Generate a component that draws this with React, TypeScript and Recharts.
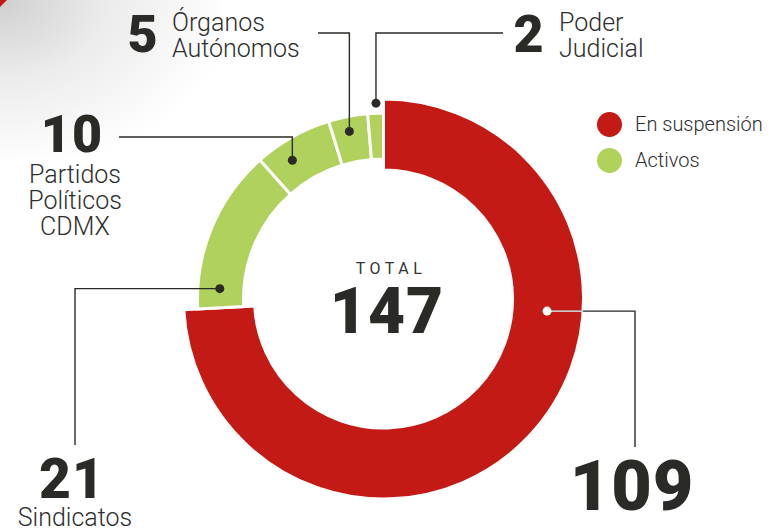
import React from 'react';
import { PieChart, Pie, Cell, Legend } from 'recharts';

// values
const suspendedName = 'En suspensión';
const suspendedValue = 109;
const activeNames = ['Sindicatos', 'Partidos Políticos CDMX', 'Órganos Autónomos', 'Poder Judicial'];
const activeValues = [21, 10, 5, 2];
const legendLabels = ['En suspensión', 'Activos'];
const totalLabel = 'TOTAL';

const RED = '#c41a15';
const GREEN = '#b0d25c';
const INK = '#2a2a26';
const NUM_FONT = 'Roboto, "DejaVu Sans", sans-serif';
const TXT_FONT = 'Roboto, "Noto Sans", sans-serif';

const total = suspendedValue + activeValues.reduce((s, v) => s + v, 0);
const redEnd = 90 - (360 * suspendedValue) / total;

const redData = [{ name: suspendedName, value: suspendedValue }];
const greenData = activeNames.map((name, i) => ({ name, value: activeValues[i] }));

// where each leader line starts on its slice and how it runs to the label
type Note = {
  at: number;
  r: number;
  dir: 'v' | 'h';
  turn: number;
  end: number;
  dot: string;
  num: { x: number; y: number; size: number };
  lines: string[];
  textX: number;
  textY: number;
  anchor: 'start' | 'middle';
};

const notes: Record<string, Note> = {
  [suspendedName]: {
    at: 0.353, r: 164, dir: 'h', turn: 635, end: 447, dot: '#fff',
    num: { x: 632, y: 510, size: 70 }, lines: [], textX: 0, textY: 0, anchor: 'middle',
  },
  Sindicatos: {
    at: 0.13, r: 164, dir: 'h', turn: 75, end: 445, dot: INK,
    num: { x: 72, y: 498, size: 55 }, lines: ['Sindicatos'], textX: 75, textY: 526, anchor: 'middle',
  },
  'Partidos Políticos CDMX': {
    at: 0.34, r: 166, dir: 'v', turn: 137, end: 119, dot: INK,
    num: { x: 72, y: 152, size: 52 }, lines: ['Partidos', 'Políticos', 'CDMX'], textX: 75, textY: 183, anchor: 'middle',
  },
  'Órganos Autónomos': {
    at: 0.46, r: 171, dir: 'v', turn: 33, end: 318, dot: INK,
    num: { x: 143, y: 52, size: 52 }, lines: ['Órganos', 'Autónomos'], textX: 172, textY: 31, anchor: 'start',
  },
  'Poder Judicial': {
    at: 0.55, r: 196, dir: 'v', turn: 33, end: 503, dot: INK,
    num: { x: 529, y: 52, size: 52 }, lines: ['Poder', 'Judicial'], textX: 559, textY: 31, anchor: 'start',
  },
};

const renderNote = (outerR: number) => (props: any) => {
  const { cx, cy, startAngle, endAngle, midAngle, name, value } = props;
  const n = notes[name];
  if (!n) return null;
  const ang = startAngle != null && endAngle != null ? startAngle + (endAngle - startAngle) * n.at : midAngle;
  const rad = (Math.PI / 180) * ang;
  const x = cx + n.r * Math.cos(rad);
  const y = cy - n.r * Math.sin(rad);
  const d = n.dir === 'v' ? `M${x},${y} V${n.turn} H${n.end}` : `M${x},${y} H${n.turn} V${n.end}`;
  const edgeX = cx + Math.sqrt(Math.max(outerR * outerR - (y - cy) * (y - cy), 0));
  return (
    <g>
      <path d={d} fill="none" stroke={INK} strokeWidth={1.4} />
      {n.dot === '#fff' && (
        <line x1={x} y1={y} x2={edgeX} y2={y} stroke="#fff" strokeWidth={1.4} />
      )}
      <circle cx={x} cy={y} r={4.5} fill={n.dot} />
      <text
        x={n.num.x}
        y={n.num.y}
        textAnchor="middle"
        fontFamily={NUM_FONT}
        fontWeight={900}
        fontSize={n.num.size}
        fill={INK}
        letterSpacing={1}
      >
        {value}
      </text>
      {n.lines.map((t, i) => (
        <text
          key={t}
          x={n.textX}
          y={n.textY + i * 26}
          textAnchor={n.anchor}
          fontFamily={TXT_FONT}
          fontWeight={300}
          fontSize={25}
          fill="#2e2e2e"
        >
          {t}
        </text>
      ))}
    </g>
  );
};

const legendColors = [RED, GREEN];

function LegendBox() {
  return (
    <div style={{ fontFamily: TXT_FONT }}>
      {legendLabels.map((l, i) => (
        <div key={l} style={{ display: 'flex', alignItems: 'center', height: 36 }}>
          <span
            style={{
              width: 25,
              height: 25,
              borderRadius: '50%',
              background: legendColors[i],
              display: 'inline-block',
              marginRight: 13,
            }}
          />
          <span style={{ fontSize: 20, fontWeight: 300, color: '#2e2e2e' }}>{l}</span>
        </div>
      ))}
    </div>
  );
}

export default function App() {
  const cx = 383.5;
  const cy = 299;
  return (
    <div style={{ position: 'absolute', left: 0, top: 0, width: 784, height: 531, background: '#fff', overflow: 'hidden' }}>
      <div
        style={{
          position: 'absolute',
          left: 0,
          top: 0,
          width: 220,
          height: 160,
          background: 'radial-gradient(ellipse at 0 0, #cfcfcf 0%, #ececec 35%, rgba(255,255,255,0) 75%)',
        }}
      />
      <div
        style={{
          position: 'absolute',
          left: 0,
          top: 0,
          width: 7,
          height: 7,
          background: RED,
          clipPath: 'polygon(0 0, 100% 0, 0 100%)',
        }}
      />
      <PieChart
        width={784}
        height={531}
        margin={{ top: 0, right: 0, bottom: 0, left: 0 }}
        style={{ position: 'absolute', left: 0, top: 0 }}
      >
        <Pie
          data={redData}
          dataKey="value"
          nameKey="name"
          cx={cx}
          cy={cy}
          innerRadius={129}
          outerRadius={200}
          startAngle={90}
          endAngle={redEnd}
          stroke="#fff"
          strokeWidth={3}
          label={renderNote(200)}
          labelLine={false}
          isAnimationActive={false}
        >
          {redData.map((d) => (
            <Cell key={d.name} fill={RED} />
          ))}
        </Pie>
        <Pie
          data={greenData}
          dataKey="value"
          nameKey="name"
          cx={cx}
          cy={cy}
          innerRadius={140}
          outerRadius={186}
          startAngle={redEnd}
          endAngle={-270}
          stroke="#fff"
          strokeWidth={3}
          label={renderNote(186)}
          labelLine={false}
          isAnimationActive={false}
        >
          {greenData.map((d) => (
            <Cell key={d.name} fill={GREEN} />
          ))}
        </Pie>
        <text
          x={391}
          y={274}
          textAnchor="middle"
          fontFamily={TXT_FONT}
          fontWeight={400}
          fontSize={16}
          letterSpacing={4.5}
          fill="#333"
        >
          {totalLabel}
        </text>
        <text
          x={387}
          y={333}
          textAnchor="middle"
          fontFamily={NUM_FONT}
          fontWeight={900}
          fontSize={64}
          letterSpacing={1}
          fill={INK}
        >
          {total}
        </text>
        <Legend
          content={() => <LegendBox />}
          layout="vertical"
          verticalAlign="top"
          align="right"
          wrapperStyle={{ top: 106, left: 597, width: 190 }}
        />
      </PieChart>
    </div>
  );
}
